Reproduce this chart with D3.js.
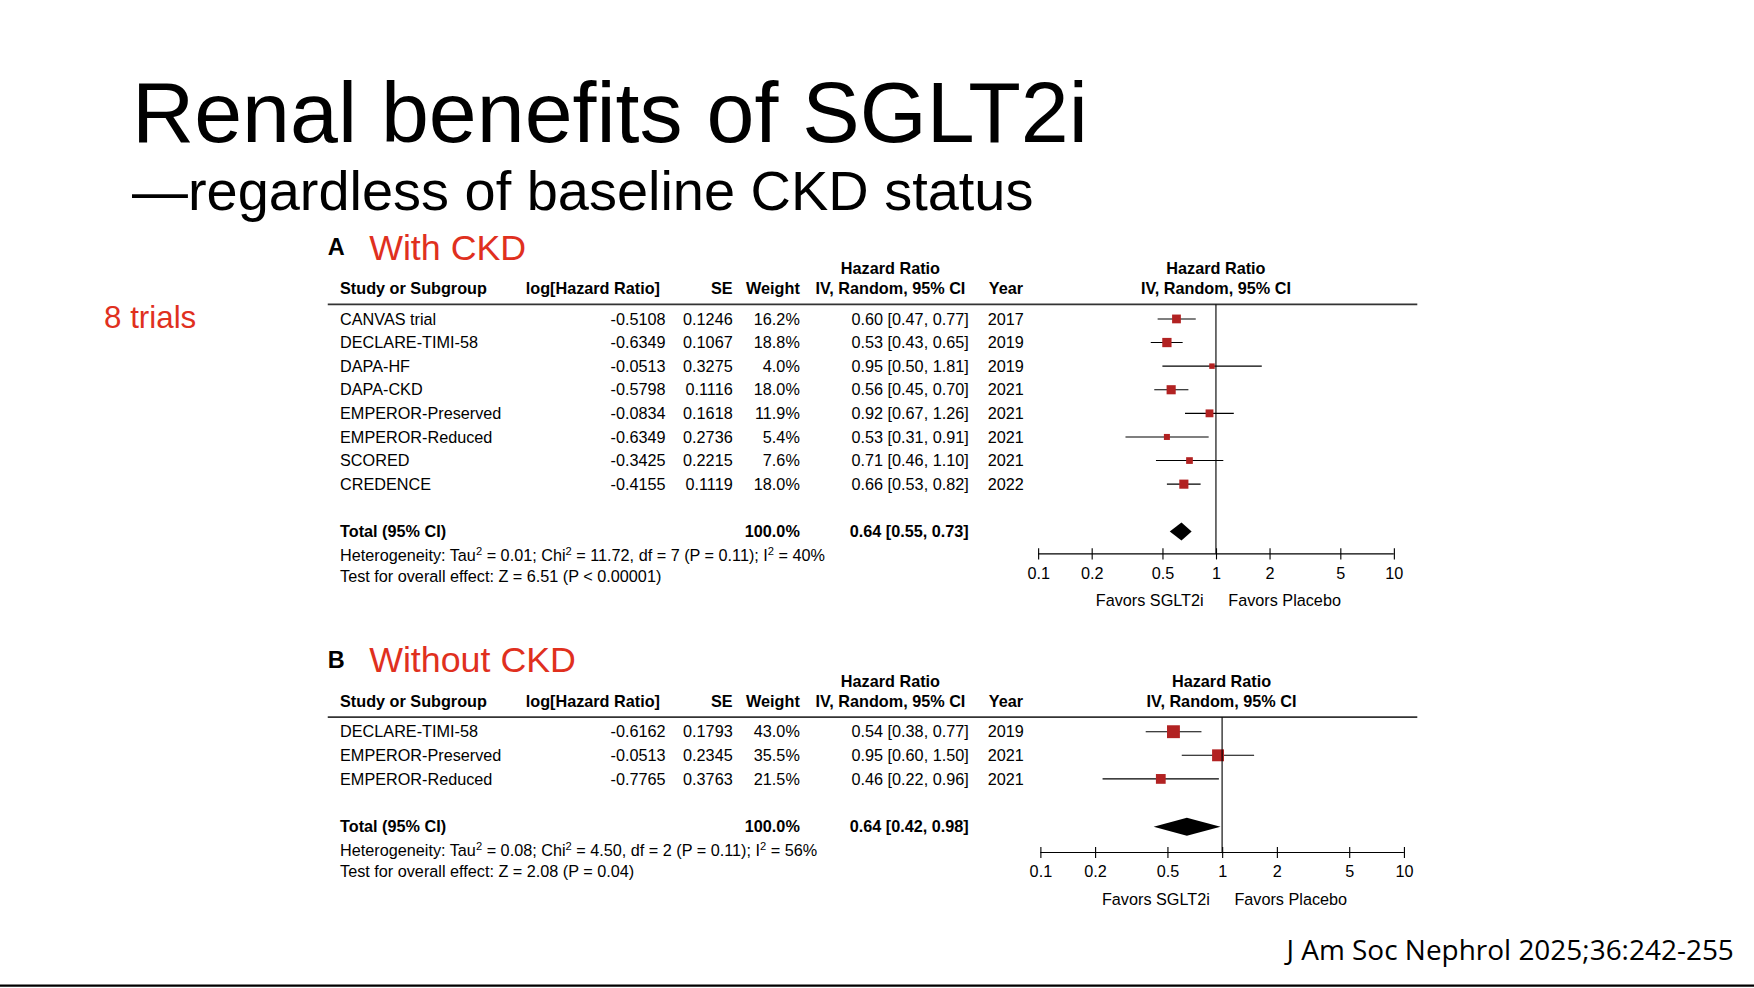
<!DOCTYPE html>
<html><head><meta charset="utf-8">
<script src="https://cdn.jsdelivr.net/npm/d3@7"></script>
<style>body{margin:0;background:#fff}svg{display:block;font-family:"Liberation Sans",Arial,sans-serif}</style>
</head><body>
<script>
// panel A data
const studiesA = ["CANVAS trial","DECLARE-TIMI-58","DAPA-HF","DAPA-CKD","EMPEROR-Preserved","EMPEROR-Reduced","SCORED","CREDENCE"];
const logHrA = ["-0.5108","-0.6349","-0.0513","-0.5798","-0.0834","-0.6349","-0.3425","-0.4155"];
const seA = ["0.1246","0.1067","0.3275","0.1116","0.1618","0.2736","0.2215","0.1119"];
const weightA = [16.2,18.8,4.0,18.0,11.9,5.4,7.6,18.0];
const hrA = [0.60,0.53,0.95,0.56,0.92,0.53,0.71,0.66];
const loA = [0.47,0.43,0.50,0.45,0.67,0.31,0.46,0.53];
const hiA = [0.77,0.65,1.81,0.70,1.26,0.91,1.10,0.82];
const yearA = [2017,2019,2019,2021,2021,2021,2021,2022];
const totalA = [0.64,0.55,0.73];
// panel B data
const studiesB = ["DECLARE-TIMI-58","EMPEROR-Preserved","EMPEROR-Reduced"];
const logHrB = ["-0.6162","-0.0513","-0.7765"];
const seB = ["0.1793","0.2345","0.3763"];
const weightB = [43.0,35.5,21.5];
const hrB = [0.54,0.95,0.46];
const loB = [0.38,0.60,0.22];
const hiB = [0.77,1.50,0.96];
const yearB = [2019,2021,2021];
const totalB = [0.64,0.42,0.98];
const ticks = [0.1,0.2,0.5,1,2,5,10];

const svg = d3.select("body").append("svg").attr("width",1754).attr("height",988).attr("viewBox","0 0 1568 883");
const red = "#e0301e", sq = "#b22222";
function txt(x,y,s,o={}){
  return svg.append("text").attr("x",x).attr("y",y).attr("font-size",o.size||14.5)
    .attr("text-anchor",o.anchor||"start").attr("font-weight",o.bold?"bold":"normal")
    .attr("fill",o.fill||"#000").attr("font-family",o.family||null).text(s);
}
txt(118,127,"Renal benefits of SGLT2i",{size:77});
txt(118,188,"\u2014regardless of baseline CKD status",{size:50});
txt(93,293,"8 trials",{size:28,fill:red});
txt(1550,858,"J Am Soc Nephrol 2025;36:242-255",{size:25,anchor:"end",family:"'Open Sans',sans-serif"});
svg.append("line").attr("x1",0).attr("x2",1568).attr("y1",881).attr("y2",881).attr("stroke","#000").attr("stroke-width",2);

function het(x,y,tau,chi,df,p,i2){
  const t = svg.append("text").attr("x",x).attr("y",y).attr("font-size",14.5);
  t.append("tspan").text("Heterogeneity: Tau");
  t.append("tspan").attr("dy",-5).attr("font-size",10).text("2");
  t.append("tspan").attr("dy",5).text(" = "+tau+"; Chi");
  t.append("tspan").attr("dy",-5).attr("font-size",10).text("2");
  t.append("tspan").attr("dy",5).text(" = "+chi+", df = "+df+" (P = "+p+"); I");
  t.append("tspan").attr("dy",-5).attr("font-size",10).text("2");
  t.append("tspan").attr("dy",5).text(" = "+i2);
}

function panel(o){
  const T = o.top; // y of header divider line
  txt(293,T-44,o.letter,{size:21,bold:true});
  txt(330,T-40,o.title,{size:32,fill:red});
  txt(796,T-27,"Hazard Ratio",{anchor:"middle",bold:true});
  txt(o.vx,T-27,"Hazard Ratio",{anchor:"middle",bold:true});
  txt(304,T-9,"Study or Subgroup",{bold:true});
  txt(590,T-9,"log[Hazard Ratio]",{anchor:"end",bold:true});
  txt(655,T-9,"SE",{anchor:"end",bold:true});
  txt(715,T-9,"Weight",{anchor:"end",bold:true});
  txt(796,T-9,"IV, Random, 95% CI",{anchor:"middle",bold:true});
  txt(884,T-9,"Year",{bold:true});
  txt(o.vx,T-9,"IV, Random, 95% CI",{anchor:"middle",bold:true});
  svg.append("line").attr("x1",293).attr("x2",1267).attr("y1",T).attr("y2",T).attr("stroke","#333").attr("stroke-width",1.5);
  const x = d3.scaleLog().domain([0.1,10]).range(o.range);
  const y = d3.scalePoint().domain(o.studies).range([T+13,T+13+21.1*(o.studies.length-1)]);
  const f = d3.format(".2f");
  o.studies.forEach((s,i)=>{
    const yy = y(s);
    txt(304,yy+5,s);
    txt(595,yy+5,o.logHr[i],{anchor:"end"});
    txt(655,yy+5,o.se[i],{anchor:"end"});
    txt(715,yy+5,d3.format(".1f")(o.weight[i])+"%",{anchor:"end"});
    txt(866,yy+5,`${f(o.hr[i])} [${f(o.lo[i])}, ${f(o.hi[i])}]`,{anchor:"end"});
    txt(883,yy+5,o.year[i]);
    svg.append("line").attr("x1",x(o.lo[i])).attr("x2",x(o.hi[i])).attr("y1",yy).attr("y2",yy).attr("stroke","#000").attr("stroke-width",1);
    const w = 2+Math.sqrt(o.weight[i])*o.sq;
    svg.append("rect").attr("x",x(o.hr[i])-w/2).attr("y",yy-w/2).attr("width",w).attr("height",w).attr("fill",sq);
  });
  const ty = o.totalY;
  txt(304,ty+5,"Total (95% CI)",{bold:true});
  txt(715,ty+5,"100.0%",{anchor:"end",bold:true});
  txt(866,ty+5,`${f(o.total[0])} [${f(o.total[1])}, ${f(o.total[2])}]`,{anchor:"end",bold:true});
  svg.append("path").attr("d",`M${x(o.total[1])},${ty}L${x(o.total[0])},${ty-8}L${x(o.total[2])},${ty}L${x(o.total[0])},${ty+8}Z`).attr("fill","#000");
  het(304,ty+26,o.het[0],o.het[1],o.het[2],o.het[3],o.het[4]);
  txt(304,ty+45,o.test);
  const ay = o.axisY;
  svg.append("line").attr("x1",x(1)).attr("x2",x(1)).attr("y1",T).attr("y2",ay).attr("stroke","#000");
  const g = svg.append("g").attr("transform",`translate(0,${ay})`)
    .call(d3.axisBottom(x).tickValues(ticks).tickFormat(d3.format("")).tickSize(-10).tickPadding(12));
  g.select(".domain").attr("d",`M${x(0.1)},0H${x(10)}`).attr("stroke","#000");
  g.selectAll(".tick line").attr("y1",-5).attr("y2",5);
  g.selectAll(".tick text").attr("font-size",14.5).attr("font-family","Liberation Sans, Arial, sans-serif").attr("fill","#000");
  txt(x(1)-11,ay+47,"Favors SGLT2i",{anchor:"end"});
  txt(x(1)+11,ay+47,"Favors Placebo");
}

panel({letter:"A",title:"With CKD",top:272,vx:1087,range:[928,1246],studies:studiesA,logHr:logHrA,se:seA,weight:weightA,
  hr:hrA,lo:loA,hi:hiA,year:yearA,total:totalA,totalY:475,axisY:495,sq:1.45,
  het:["0.01","11.72","7","0.11","40%"],test:"Test for overall effect: Z = 6.51 (P < 0.00001)"});
panel({letter:"B",title:"Without CKD",top:641,vx:1092,range:[930,1255],studies:studiesB,logHr:logHrB,se:seB,weight:weightB,
  hr:hrB,lo:loB,hi:hiB,year:yearB,total:totalB,totalY:739,axisY:762,sq:1.45,
  het:["0.08","4.50","2","0.11","56%"],test:"Test for overall effect: Z = 2.08 (P = 0.04)"});
</script>
</body></html>
